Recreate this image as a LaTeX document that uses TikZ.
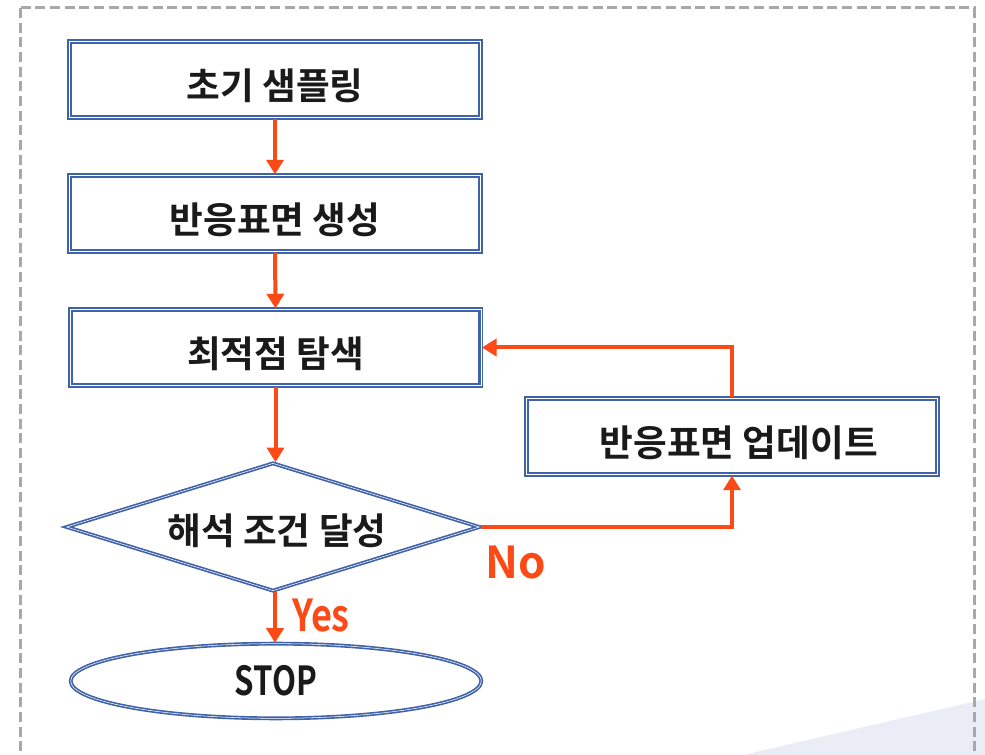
\documentclass[tikz,border=0pt]{standalone}
\usepackage{fontspec}
\setmainfont{Noto Sans CJK KR Bold}
\usetikzlibrary{shapes.geometric,arrows.meta}
\definecolor{bl}{HTML}{3F62A8}
\definecolor{orng}{HTML}{FC4A17}
\definecolor{txt}{HTML}{1A1A1A}
\definecolor{bordergray}{HTML}{A8A8A8}
\definecolor{tri}{HTML}{EAEDF5}
\begin{document}
\begin{tikzpicture}[x=0.75pt,y=-0.75pt,
  box/.style={rectangle, draw=bl, line width=1.6pt, double=white, double distance=0.4pt,
    fill=white, minimum width=308pt, minimum height=57pt, inner sep=0pt,
    text=txt, font=\fontsize{27.5}{32}\selectfont, text height=30pt, text depth=0pt},
  dia/.style={diamond, aspect=3.18, draw=bl, line width=1.25pt, double=white, double distance=0.4pt,
    fill=white, minimum width=310pt, minimum height=96pt, inner sep=0pt,
    text=txt, font=\fontsize{27.5}{32}\selectfont, text height=25.5pt, text depth=0pt},
  term/.style={ellipse, draw=bl, line width=1.25pt, double=white, double distance=0.4pt,
    fill=white, minimum width=308pt, minimum height=56pt, inner sep=0pt,
    text=txt, font=\fontsize{30}{34}\selectfont},
  flow/.style={draw=orng, line width=3pt, -{Triangle[width=12.75pt,length=11pt]}},
  lbl/.style={text=orng, inner sep=0pt, font=\fontsize{33}{36}\selectfont}
]
\useasboundingbox (0,0) rectangle (985,755);
\clip (0,0) rectangle (985,755);
\fill[tri] (743,755) -- (985,699) -- (985,755) -- cycle;
\draw[bordergray, line width=2.25pt, dash pattern=on 7.5pt off 3.5pt] (20,8) rectangle (974,790);

\node[box] (b1) at (275,79.5) {초기 샘플링};
\node[box] (b2) at (275,213.5) {반응표면 생성};
\node[box] (b3) at (275.5,347.5) {최적점 탐색};
\node[box] (up) at (732,436.5) {\hspace*{10pt}반응표면 업데이트};
\node[dia] (d) at (273,527) {\hspace*{6pt}해석 조건 달성};
\node[term] (stop) at (276,681) {\scalebox{0.78}[1]{STOP}};

\node[lbl] (yes) at (321,616) {\scalebox{0.82}[1]{Yes}};
\node[lbl] (no) at (516,563) {No};

\draw[flow] (b1.south) -- (b2.north);
\draw[flow] (b2.south) -- (b3.north);
\draw[flow] (b3.south) -- (d.north -| b3.south);
\draw[flow] (d.south -| b1.south) -- (stop.north -| b1.south);
\draw[flow] (d.east) -| (up.south);
\draw[flow] (up.north) |- (b3.east);
\end{tikzpicture}
\end{document}
